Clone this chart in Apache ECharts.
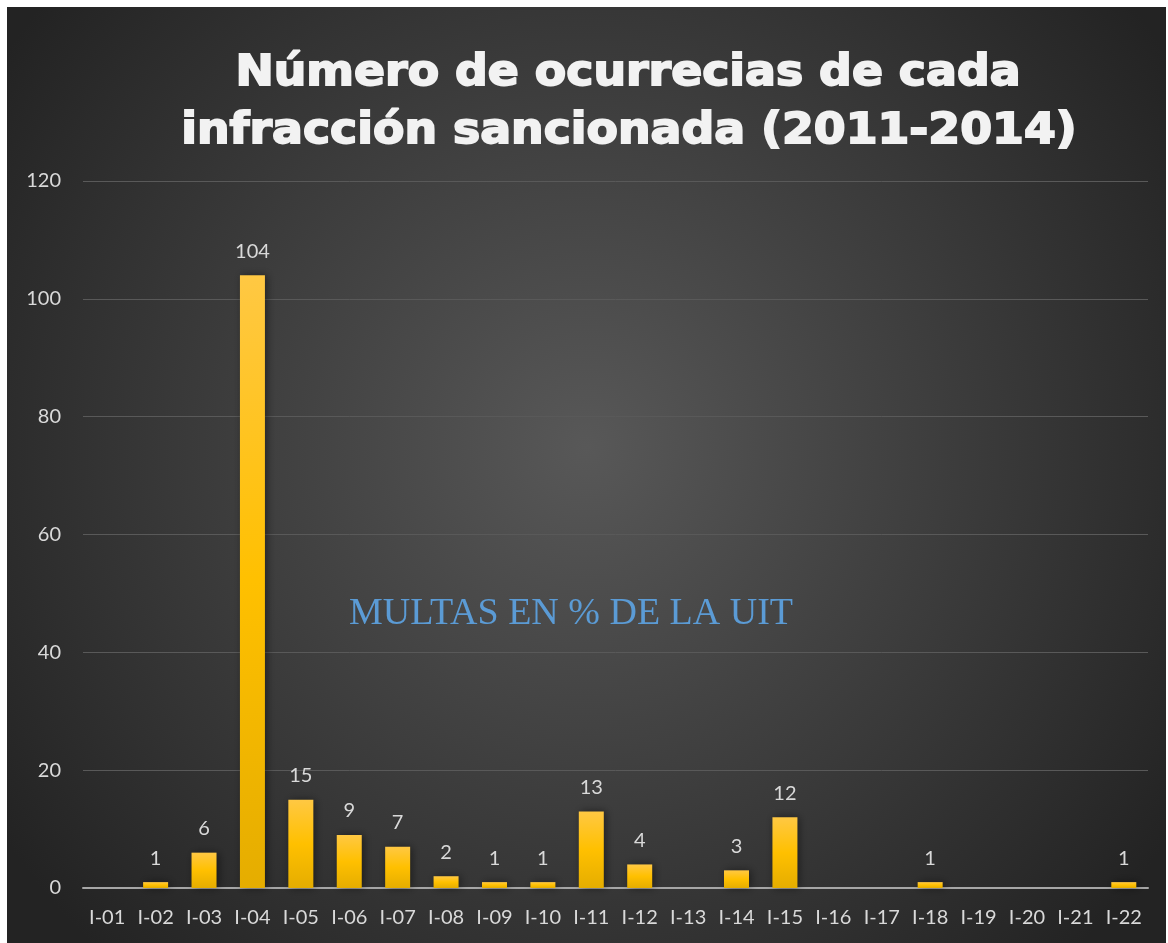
<!DOCTYPE html>
<html>
<head>
<meta charset="utf-8">
<script src="https://cdn.jsdelivr.net/npm/echarts@6/dist/echarts.min.js"></script>
<style>
  html, body { margin: 0; padding: 0; background: #fff; }
  #chart { position: absolute; left: 7px; top: 7px; width: 1159px; height: 936px; }
</style>
</head>
<body>
<div id="chart"></div>
<script>
// categorías (infracciones)
const categories = ['I-01','I-02','I-03','I-04','I-05','I-06','I-07','I-08','I-09','I-10','I-11',
  'I-12','I-13','I-14','I-15','I-16','I-17','I-18','I-19','I-20','I-21','I-22']
// número de ocurrencias
const ocurrencias = [null, 1, 6, 104, 15, 9, 7, 2, 1, 1, 13, 4, null, 3, 12, null, null, 1, null, null, null, 1]
const titleLines = ['Número de ocurrecias de cada', 'infracción sancionada (2011-2014)']
const overlayText = 'MULTAS EN % DE LA UIT'

const chart = echarts.init(document.getElementById('chart'))

const titleStyle = {
  fill: '#F2F2F2',
  stroke: '#F2F2F2',
  lineWidth: 1.8,
  font: 'bold 42px "DejaVu Sans"',
  textAlign: 'center',
  textVerticalAlign: 'middle',
  shadowColor: 'rgba(0,0,0,0.75)',
  shadowBlur: 4,
  shadowOffsetX: 2,
  shadowOffsetY: 2
}

const option = {
  backgroundColor: {
    type: 'radial', x: 0.5, y: 0.47, r: 0.75,
    colorStops: [
      { offset: 0, color: '#585858' },
      { offset: 1, color: '#232323' }
    ]
  },
  grid: { left: 76, right: 18, top: 174, bottom: 55 },
  graphic: [
    { type: 'text', x: 621, y: 67, scaleX: 1.09, style: Object.assign({ text: titleLines[0] }, titleStyle) },
    { type: 'text', x: 622, y: 125, scaleX: 1.09, style: Object.assign({ text: titleLines[1] }, titleStyle) },
    {
      type: 'text', x: 564, y: 607,
      style: {
        text: overlayText,
        fill: '#5B9BD5',
        font: '38px "Liberation Serif"',
        textAlign: 'center',
        textVerticalAlign: 'middle'
      }
    }
  ],
  xAxis: {
    type: 'category',
    data: categories,
    axisLine: { lineStyle: { color: '#A6A6A6', width: 2 } },
    axisTick: { show: false },
    axisLabel: { color: '#D9D9D9', fontSize: 20, fontFamily: 'Lato', margin: 20 }
  },
  yAxis: {
    type: 'value',
    min: 0, max: 120, interval: 20,
    axisLine: { show: false },
    axisTick: { show: false },
    axisLabel: { color: '#D9D9D9', fontSize: 20, fontFamily: 'Lato', margin: 22 },
    splitLine: { lineStyle: { color: '#595959', width: 1 } }
  },
  series: [{
    type: 'bar',
    data: ocurrencias,
    barWidth: 25,
    itemStyle: {
      color: {
        type: 'linear', x: 0, y: 0, x2: 0, y2: 1,
        colorStops: [
          { offset: 0, color: '#FFC843' },
          { offset: 0.5, color: '#FFC000' },
          { offset: 1, color: '#E5AD00' }
        ]
      },
      shadowColor: 'rgba(0,0,0,0.45)',
      shadowBlur: 8,
      shadowOffsetX: 2,
      shadowOffsetY: 0
    },
    label: {
      show: true,
      position: 'top',
      distance: 14,
      color: '#D9D9D9',
      fontSize: 20,
      fontFamily: 'Lato'
    }
  }]
}

chart.setOption(option)
window.addEventListener('resize', () => chart.resize())
</script>
</body>
</html>
